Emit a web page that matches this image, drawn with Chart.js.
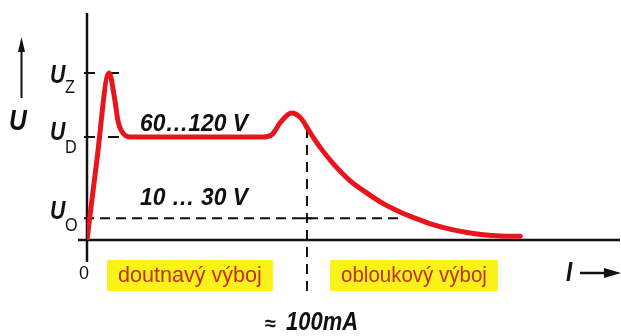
<!DOCTYPE html>
<html>
<head>
<meta charset="utf-8">
<script src="https://cdn.jsdelivr.net/npm/chart.js@4"></script>
<style>
  html, body { margin: 0; padding: 0; background: #fff; }
  #chart { display: block; }
</style>
</head>
<body>
<canvas id="chart" width="621" height="336"></canvas>
<script>
// current in mA, voltage in V
const currentMA = [0, 4.5, 10, 12.7, 14, 15.5, 19.5, 50, 80, 84, 88, 93, 97, 101.4, 106, 111.8, 119.5, 127.3, 134.5, 142.3, 150, 157.3, 165, 172.7, 180, 188, 197];
const voltageV = [0, 70, 146, 122, 105, 96, 90, 90, 90, 92, 103, 111, 107, 94, 81, 67, 52, 41, 32, 24.5, 18.5, 13.5, 9.5, 6.5, 4.5, 3.4, 3.2];

// characteristic levels
const levelNames = ['Z', 'D', 'O'];
const levelValues = [146, 90, 19];
const levelTexts = ['', '60\u2026120 V', '10 \u2026 30 V'];

const boundaryMA = 100;
const regionNames = ['doutnavý výboj', 'obloukový výboj'];
const regionFrom = [9.1, 110.5];
const regionTo = [84.5, 186.8];

const FONT = '"Liberation Sans", Arial, sans-serif';

function text(ctx, str, x, y, size, opts) {
  opts = opts || {};
  ctx.save();
  ctx.font = (opts.italic ? 'italic ' : '') + (opts.bold ? 'bold ' : '') + size + 'px ' + FONT;
  ctx.fillStyle = opts.color || '#111';
  ctx.textBaseline = 'middle';
  ctx.textAlign = 'left';
  const w = ctx.measureText(str).width;
  const sx = opts.width ? opts.width / w : (opts.sx || 1);
  ctx.translate(x, y);
  ctx.scale(sx, 1);
  ctx.fillText(str, 0, 0);
  ctx.restore();
}

function line(ctx, x1, y1, x2, y2, width, dash) {
  ctx.save();
  ctx.strokeStyle = '#111';
  ctx.lineWidth = width;
  ctx.setLineDash(dash || []);
  ctx.beginPath();
  ctx.moveTo(x1, y1);
  ctx.lineTo(x2, y2);
  ctx.stroke();
  ctx.restore();
}

const diagram = {
  id: 'diagram',
  beforeDatasetsDraw(chart) {
    const ctx = chart.ctx;
    const xs = chart.scales.x, ys = chart.scales.y;
    const x0 = xs.getPixelForValue(0), y0 = ys.getPixelForValue(0);

    // axes
    line(ctx, x0, 13, x0, 262, 2.5);
    line(ctx, 78, y0, 620, y0, 2.5);

    // level marks
    const yz = ys.getPixelForValue(levelValues[0]);
    const yd = ys.getPixelForValue(levelValues[1]);
    const yo = ys.getPixelForValue(levelValues[2]);
    line(ctx, x0 - 3, yz, 124, yz, 2, [11, 13]);
    line(ctx, x0 - 3, yd, 124, yd, 2, [11, 13]);
    line(ctx, x0 - 3, yo, 404, yo, 2, [10, 6]);

    // boundary at ~100 mA
    const xb = xs.getPixelForValue(boundaryMA);
    line(ctx, xb, 128, xb, 298, 2, [10, 7]);
    line(ctx, xb - 5, yo, xb + 5, yo, 2);
    line(ctx, xb - 5, y0, xb + 5, y0, 2);

    // region labels
    for (let i = 0; i < regionNames.length; i++) {
      const a = xs.getPixelForValue(regionFrom[i]);
      const b = xs.getPixelForValue(regionTo[i]);
      ctx.fillStyle = '#fbf21a';
      ctx.fillRect(a, y0 + 20, b - a, 31);
      text(ctx, regionNames[i], a + 11, y0 + 36, 22, { color: '#c4301c', width: b - a - 22 });
    }
  },
  afterDraw(chart) {
    const ctx = chart.ctx;
    const ys = chart.scales.y;

    // U axis label with arrow
    line(ctx, 21.5, 98, 21.5, 48, 2);
    ctx.save();
    ctx.fillStyle = '#111';
    ctx.beginPath();
    ctx.moveTo(21.5, 37); ctx.lineTo(18, 52); ctx.lineTo(25, 52); ctx.closePath();
    ctx.fill();
    ctx.restore();
    text(ctx, 'U', 9, 122, 29, { italic: true, bold: true, sx: 0.85 });

    // I axis label with arrow
    text(ctx, 'I', 566, 273, 28, { italic: true, bold: true, sx: 0.8 });
    line(ctx, 580, 273, 606, 273, 2.5);
    ctx.save();
    ctx.fillStyle = '#111';
    ctx.beginPath();
    ctx.moveTo(621, 273); ctx.lineTo(604, 268); ctx.lineTo(604, 278); ctx.closePath();
    ctx.fill();
    ctx.restore();

    // level names and values
    const uShift = [3, -4, -6];
    const subShift = [15, 11, 8];
    for (let i = 0; i < levelNames.length; i++) {
      const y = ys.getPixelForValue(levelValues[i]);
      text(ctx, 'U', 50, y + uShift[i], 25, { italic: true, bold: true, sx: 0.85 });
      text(ctx, levelNames[i], 65, y + subShift[i], 18, { sx: 0.9 });
      if (levelTexts[i]) {
        text(ctx, levelTexts[i], 140, y - 13 - (i === 2 ? 7 : 0), 24, { italic: true, bold: true, width: 108 });
      }
    }

    text(ctx, '0', 79, 274, 18, {});
    text(ctx, '\u2248', 265, 324, 20, { bold: true });
    text(ctx, '100mA', 286, 323, 25, { italic: true, bold: true, width: 72 });
  }
};

new Chart(document.getElementById('chart'), {
  type: 'scatter',
  data: {
    datasets: [{
      data: currentMA.map((v, i) => ({ x: v, y: voltageV[i] })),
      showLine: true,
      borderColor: '#e8161c',
      borderWidth: 5,
      borderCapStyle: 'round',
      borderJoinStyle: 'round',
      cubicInterpolationMode: 'monotone',
      pointRadius: 0
    }]
  },
  options: {
    responsive: false,
    animation: false,
    layout: { padding: { left: 87, right: 1, top: 14, bottom: 96 } },
    plugins: { legend: { display: false }, tooltip: { enabled: false } },
    scales: {
      x: { type: 'linear', display: false, min: 0, max: 242.3 },
      y: { type: 'linear', display: false, min: 0, max: 197.6 }
    }
  },
  plugins: [diagram]
});
</script>
</body>
</html>
